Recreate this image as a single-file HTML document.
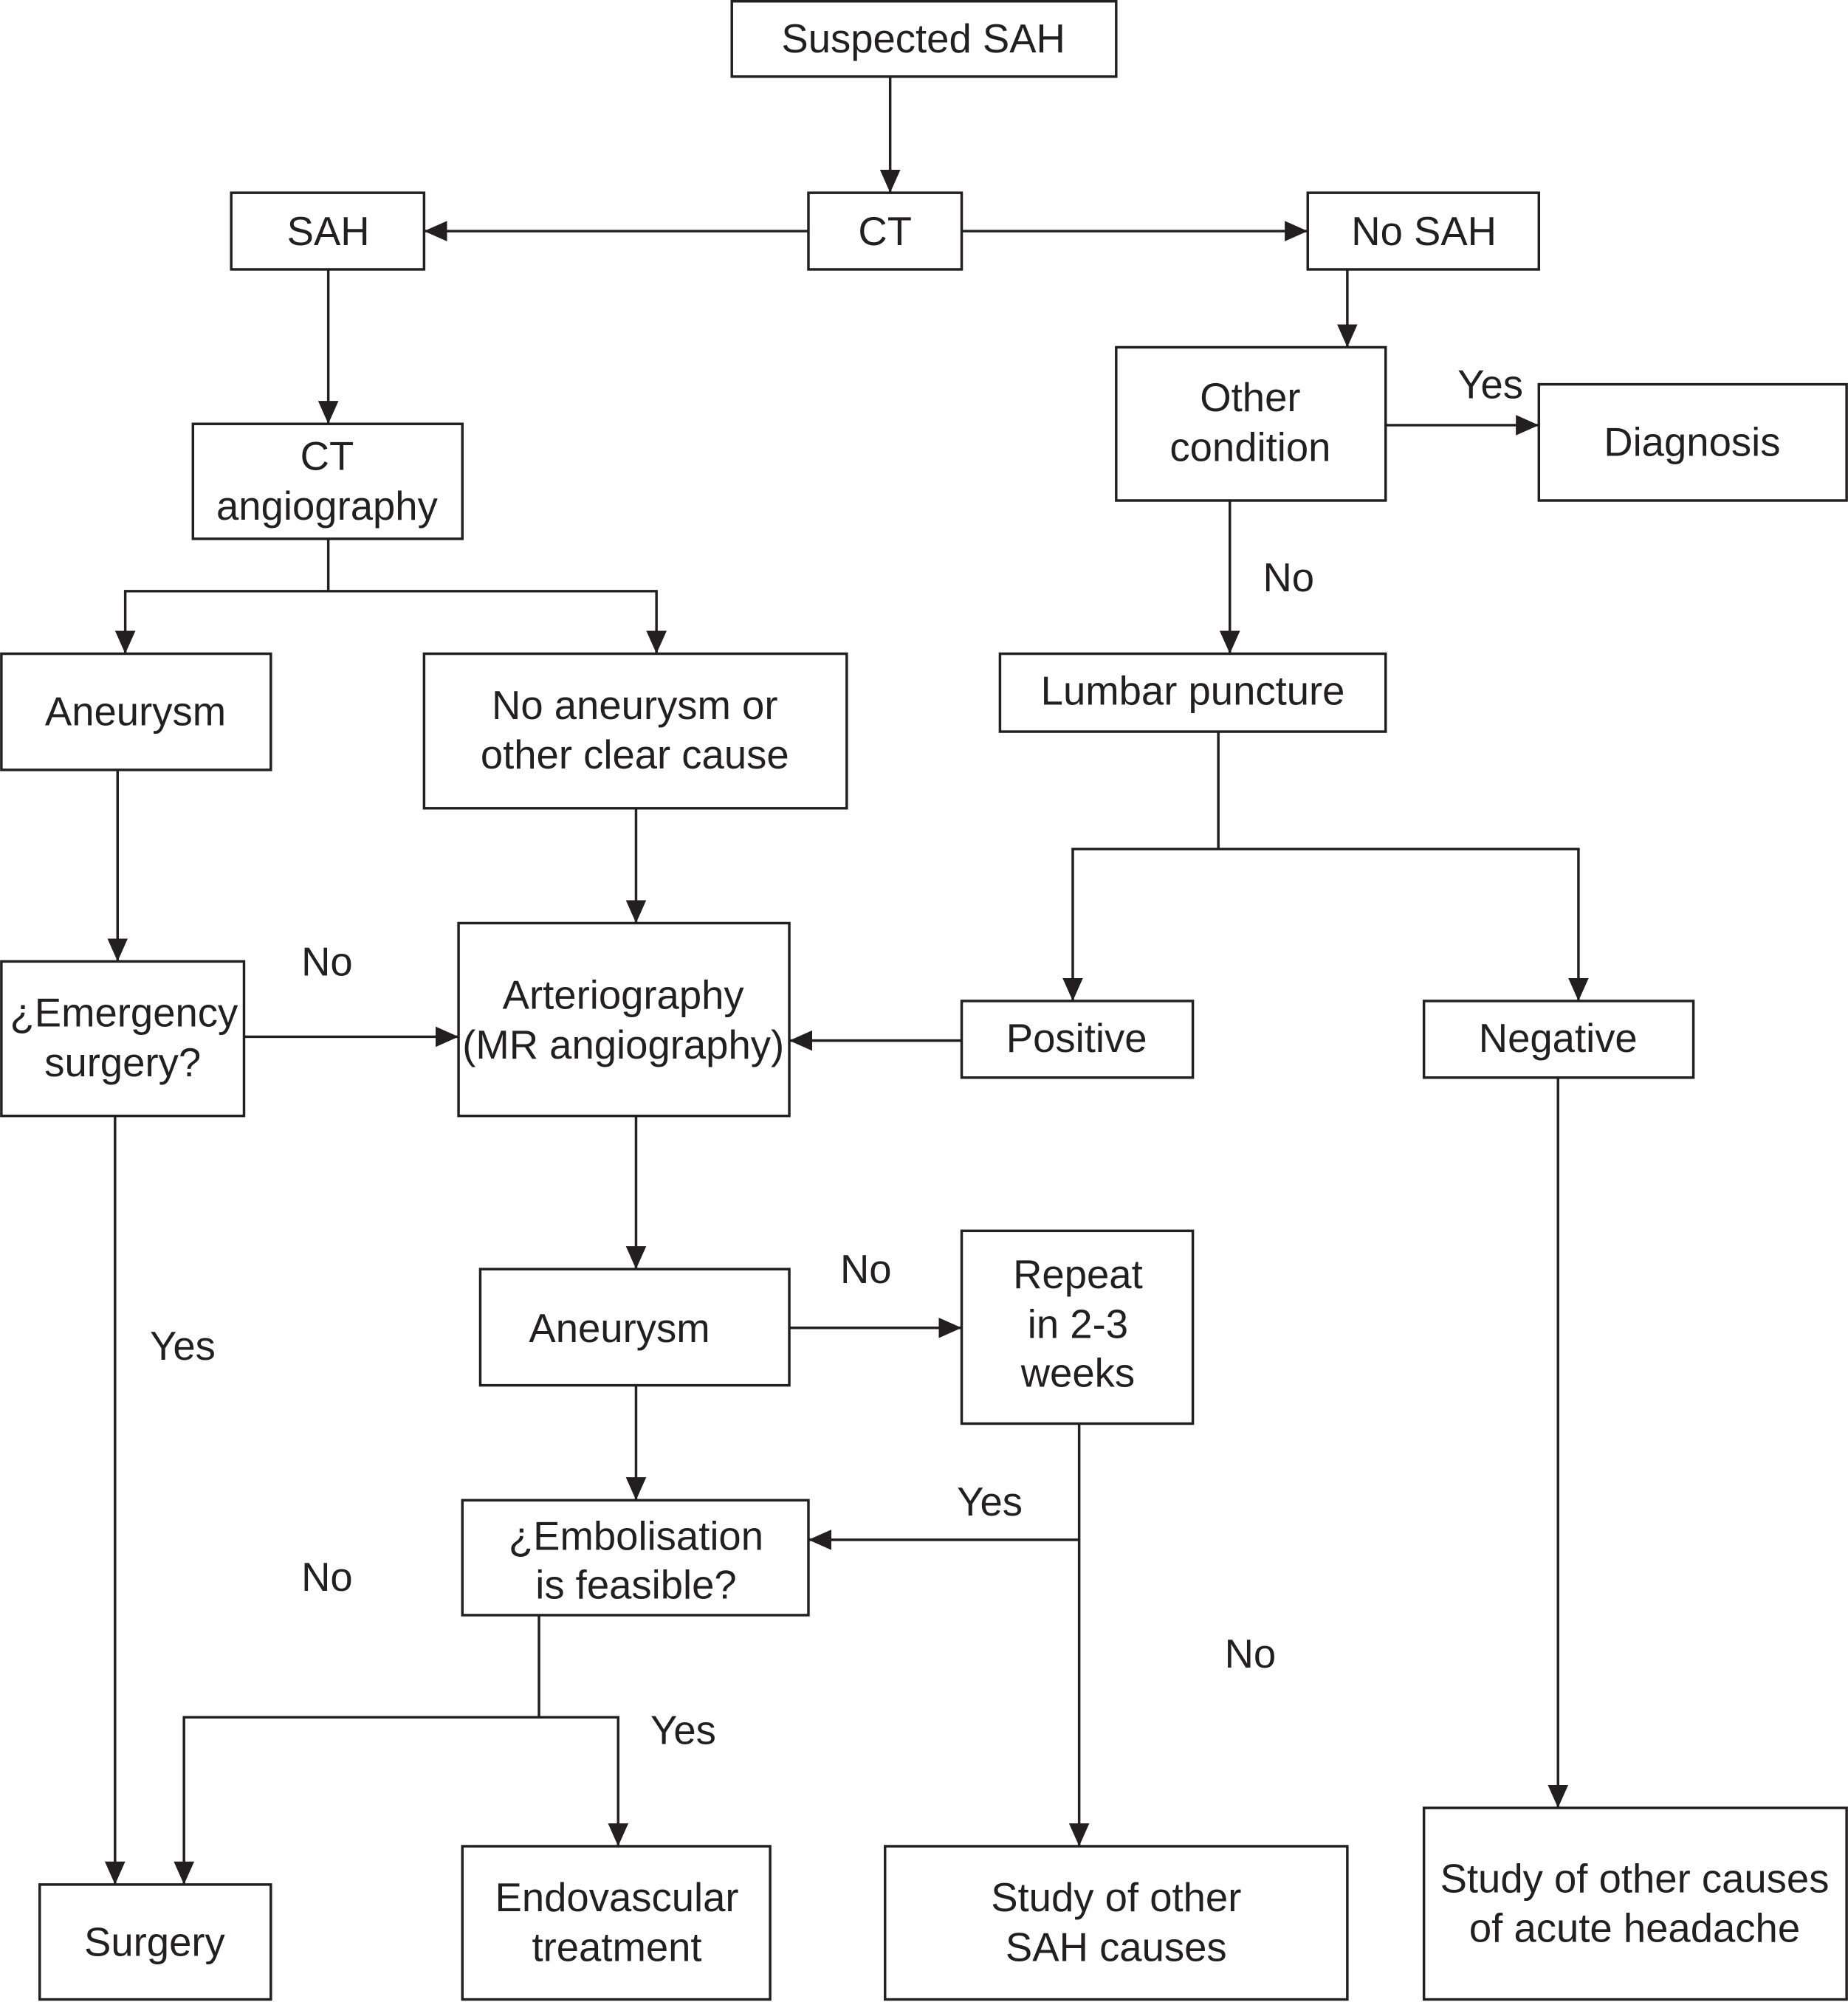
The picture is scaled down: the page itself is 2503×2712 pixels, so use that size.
<!DOCTYPE html>
<html><head><meta charset="utf-8"><style>
html,body{margin:0;padding:0;background:#fff;}
svg{display:block;}
text{font-family:"Liberation Sans",Arial,sans-serif;font-size:31.5px;fill:#231f20;text-anchor:middle;}
rect{fill:#fff;stroke:#231f20;stroke-width:2;}
line,polyline{stroke:#231f20;stroke-width:2;fill:none;}
</style></head><body>
<svg width="2503" height="2712" viewBox="0 0 1447 1568" xmlns="http://www.w3.org/2000/svg">
<defs>
<marker id="ar" viewBox="0 0 18 16" refX="18" refY="8" markerWidth="18" markerHeight="16" orient="auto" markerUnits="userSpaceOnUse"><path d="M0,0 L18,8 L0,16 z" fill="#231f20"/></marker></defs>

<line x1="697" y1="60" x2="697" y2="151" marker-end="url(#ar)"/>
<line x1="633" y1="181" x2="332" y2="181" marker-end="url(#ar)"/>
<line x1="753" y1="181" x2="1024" y2="181" marker-end="url(#ar)"/>
<line x1="257" y1="211" x2="257" y2="332" marker-end="url(#ar)"/>
<line x1="1055" y1="211" x2="1055" y2="272" marker-end="url(#ar)"/>
<line x1="1085" y1="333" x2="1205" y2="333" marker-end="url(#ar)"/>
<line x1="963" y1="392" x2="963" y2="512" marker-end="url(#ar)"/>
<line x1="257" y1="422" x2="257" y2="463"/>
<line x1="97" y1="463" x2="515" y2="463"/>
<line x1="98" y1="463" x2="98" y2="512" marker-end="url(#ar)"/>
<line x1="514" y1="463" x2="514" y2="512" marker-end="url(#ar)"/>
<line x1="92" y1="603" x2="92" y2="753" marker-end="url(#ar)"/>
<line x1="498" y1="633" x2="498" y2="723" marker-end="url(#ar)"/>
<line x1="954" y1="573" x2="954" y2="665"/>
<line x1="839" y1="665" x2="1237" y2="665"/>
<line x1="840" y1="665" x2="840" y2="784" marker-end="url(#ar)"/>
<line x1="1236" y1="665" x2="1236" y2="784" marker-end="url(#ar)"/>
<line x1="191" y1="812" x2="359" y2="812" marker-end="url(#ar)"/>
<line x1="753" y1="815" x2="618" y2="815" marker-end="url(#ar)"/>
<line x1="90" y1="874" x2="90" y2="1476" marker-end="url(#ar)"/>
<line x1="498" y1="874" x2="498" y2="994" marker-end="url(#ar)"/>
<line x1="618" y1="1040" x2="753" y2="1040" marker-end="url(#ar)"/>
<line x1="498" y1="1085" x2="498" y2="1175" marker-end="url(#ar)"/>
<line x1="845" y1="1115" x2="845" y2="1446" marker-end="url(#ar)"/>
<line x1="845" y1="1206" x2="633" y2="1206" marker-end="url(#ar)"/>
<line x1="422" y1="1265" x2="422" y2="1345"/>
<line x1="143" y1="1345" x2="485" y2="1345"/>
<line x1="144" y1="1345" x2="144" y2="1476" marker-end="url(#ar)"/>
<line x1="484" y1="1345" x2="484" y2="1446" marker-end="url(#ar)"/>
<line x1="1220" y1="844" x2="1220" y2="1416" marker-end="url(#ar)"/>

<rect x="573" y="1" width="301" height="59"/><text x="723" y="41">Suspected SAH</text>
<rect x="633" y="151" width="120" height="60"/><text x="693" y="192">CT</text>
<rect x="181" y="151" width="151" height="60"/><text x="257" y="192">SAH</text>
<rect x="1024" y="151" width="181" height="60"/><text x="1115" y="192">No SAH</text>
<rect x="874" y="272" width="211" height="120"/><text x="979" y="322">Other</text><text x="979" y="361">condition</text>
<rect x="1205" y="301" width="241" height="91"/><text x="1325" y="357">Diagnosis</text>
<rect x="151" y="332" width="211" height="90"/><text x="256" y="368">CT</text><text x="256" y="407">angiography</text>
<rect x="1" y="512" width="211" height="91"/><text x="106" y="568">Aneurysm</text>
<rect x="332" y="512" width="331" height="121"/><text x="497" y="563">No aneurysm or</text><text x="497" y="602">other clear cause</text>
<rect x="783" y="512" width="302" height="61"/><text x="934" y="552">Lumbar puncture</text>
<rect x="1" y="753" width="190" height="121"/><text x="97" y="804">¿Emergency</text><text x="96" y="843">surgery?</text>
<rect x="359" y="723" width="259" height="151"/><text x="488" y="790">Arteriography</text><text x="488" y="829">(MR angiography)</text>
<rect x="753" y="784" width="181" height="60"/><text x="843" y="824">Positive</text>
<rect x="1115" y="784" width="211" height="60"/><text x="1220" y="824">Negative</text>
<rect x="376" y="994" width="242" height="91"/><text x="485" y="1051">Aneurysm</text>
<rect x="753" y="964" width="181" height="151"/><text x="844" y="1009">Repeat</text><text x="844" y="1048">in 2-3</text><text x="844" y="1086">weeks</text>
<rect x="362" y="1175" width="271" height="90"/><text x="498" y="1214">¿Embolisation</text><text x="498" y="1252">is feasible?</text>
<rect x="31" y="1476" width="181" height="90"/><text x="121" y="1532">Surgery</text>
<rect x="362" y="1446" width="241" height="120"/><text x="483" y="1497">Endovascular</text><text x="483" y="1536">treatment</text>
<rect x="693" y="1446" width="362" height="120"/><text x="874" y="1497">Study of other</text><text x="874" y="1536">SAH causes</text>
<rect x="1115" y="1416" width="331" height="150"/><text x="1280" y="1482">Study of other causes</text><text x="1280" y="1521">of acute headache</text>

<text x="1167" y="312">Yes</text>
<text x="1009" y="463">No</text>
<text x="256" y="764">No</text>
<text x="143" y="1065">Yes</text>
<text x="678" y="1005">No</text>
<text x="775" y="1187">Yes</text>
<text x="979" y="1306">No</text>
<text x="535" y="1366">Yes</text>
<text x="256" y="1246">No</text>
</svg>
</body></html>
